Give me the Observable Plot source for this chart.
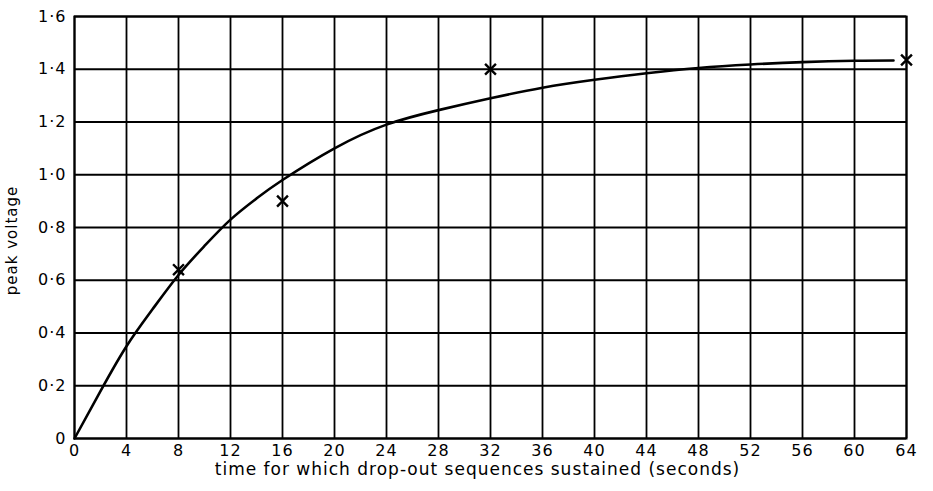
<!DOCTYPE html>
<html><head><meta charset="utf-8">
<script src="https://cdn.jsdelivr.net/npm/d3@7"></script>
<script src="https://cdn.jsdelivr.net/npm/@observablehq/plot@0.6"></script>
<style>body{margin:0;background:#fff}</style>
</head><body><div id="chart"></div>
<script>
const curveT = [0, 2, 4, 6, 8, 10, 12, 14, 16, 20, 24, 28, 32, 36, 40, 44, 48, 52, 56, 60, 63];
const curveV = [0, 0.18, 0.35, 0.49, 0.62, 0.73, 0.83, 0.91, 0.98, 1.10, 1.19, 1.245, 1.29, 1.33, 1.36, 1.385, 1.405, 1.418, 1.427, 1.432, 1.433];
const obsT = [8, 16, 32, 64];
const obsV = [0.64, 0.90, 1.40, 1.435];
const xTicks = d3.range(0, 65, 4);
const yTicks = [0, 0.2, 0.4, 0.6, 0.8, 1.0, 1.2, 1.4, 1.6];

const curve = curveT.map((t, i) => ({t, v: curveV[i]}));
const obs = obsT.map((t, i) => ({t, v: obsV[i]}));
const fmtY = d => d === 0 ? "0" : d.toFixed(1).replace(".", "·");

const chart = Plot.plot({
  width: 933, height: 491,
  marginLeft: 74, marginRight: 27, marginTop: 16, marginBottom: 53,
  style: {fontFamily: "DejaVu Sans", fontSize: "16px", color: "#000", background: "#fff", letterSpacing: "1px"},
  x: {domain: [0, 64], ticks: xTicks, label: null},
  y: {domain: [0, 1.6], ticks: yTicks, label: null},
  marks: [
    Plot.gridX(xTicks, {stroke: "#000", strokeOpacity: 1, strokeWidth: 1.8}),
    Plot.gridY(yTicks, {stroke: "#000", strokeOpacity: 1, strokeWidth: 1.8}),
    Plot.frame({stroke: "#000", strokeWidth: 2}),
    Plot.axisX(xTicks, {tickSize: 0, tickPadding: 6, fontSize: 16, tickFormat: d => String(d), label: null}),
    Plot.axisY(yTicks, {tickSize: 0, tickPadding: 8, fontSize: 16, tickFormat: fmtY, label: null}),
    Plot.line(curve, {x: "t", y: "v", curve: "natural", stroke: "#000", strokeWidth: 2.6}),
    Plot.dot(obs, {x: "t", y: "v", symbol: "times", r: 5, stroke: "#000", strokeWidth: 2.4}),
    Plot.text(["time for which drop-out sequences sustained (seconds)"], {frameAnchor: "bottom", dy: 36, dx: -13, fontSize: 17, text: d => d}),
    Plot.text(["peak voltage"], {frameAnchor: "left", textAnchor: "middle", rotate: -90, dx: -62, dy: 13, fontSize: 15, text: d => d})
  ]
});
document.getElementById("chart").appendChild(chart);
</script>
</body></html>
